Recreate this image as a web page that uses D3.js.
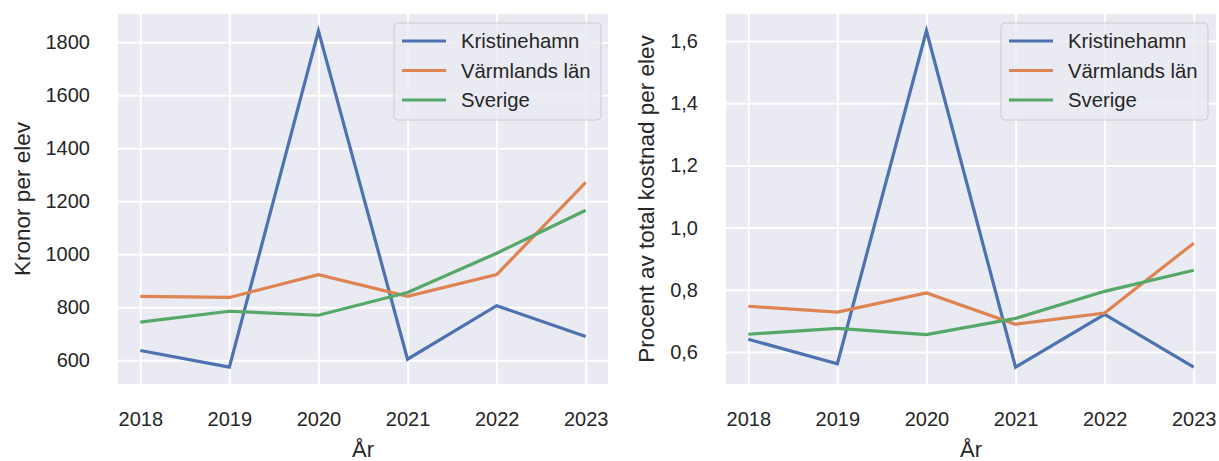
<!DOCTYPE html>
<html>
<head>
<meta charset="utf-8">
<script src="https://cdn.jsdelivr.net/npm/d3@7"></script>
<style>
  body { margin: 0; background: #ffffff; }
  svg { display: block; }
  text { font-family: "Liberation Sans", Arial, sans-serif; fill: #262626; }
</style>
</head>
<body>
<svg id="chart" width="1219" height="461"></svg>
<script>
const years = [2018, 2019, 2020, 2021, 2022, 2023];
const seriesNames = ["Kristinehamn", "Värmlands län", "Sverige"];
const seriesColors = ["#4C72B0", "#DD8452", "#55A868"];

// Left panel: Kronor per elev
const kronorKristinehamn = [637, 574, 1843, 604, 806, 690];
const kronorVarmland = [841, 837, 923, 841, 923, 1271];
const kronorSverige = [744, 785, 770, 856, 1004, 1166];
const kronorTicks = [600, 800, 1000, 1200, 1400, 1600, 1800];

// Right panel: Procent av total kostnad per elev
const procentKristinehamn = [0.641, 0.562, 1.633, 0.551, 0.721, 0.551];
const procentVarmland = [0.747, 0.728, 0.790, 0.689, 0.725, 0.950];
const procentSverige = [0.657, 0.676, 0.656, 0.708, 0.795, 0.863];
const procentTicks = [0.6, 0.8, 1.0, 1.2, 1.4, 1.6];

const xLabel = "År";

const svg = d3.select("#chart");

function panel(opts) {
  const { left, right, top, bottom, series, ticks, tickFmt, yLabel, yLabelX, legendX } = opts;
  const g = svg.append("g");
  const w = right - left, h = bottom - top;

  const allVals = series.flat();
  const [mn, mx] = d3.extent(allVals);
  const pad = (mx - mn) * 0.05;
  const y = d3.scaleLinear().domain([mn - pad, mx + pad]).range([bottom, top]);
  const xPad = (years[years.length - 1] - years[0]) * 0.05;
  const x = d3.scaleLinear().domain([years[0] - xPad, years[years.length - 1] + xPad]).range([left, right]);

  g.append("rect").attr("x", left).attr("y", top).attr("width", w).attr("height", h).attr("fill", "#EAEAF2");

  // grid
  const yAxis = d3.axisLeft(y).tickValues(ticks).tickSize(-w).tickPadding(28).tickFormat(tickFmt);
  const ya = g.append("g").attr("transform", `translate(${left},0)`).call(yAxis);
  ya.select(".domain").remove();
  ya.selectAll("line").attr("stroke", "#ffffff").attr("stroke-width", 2);
  ya.selectAll("text").attr("x", -28).attr("font-size", 20).attr("fill", "#262626").attr("font-family", "Liberation Sans, Arial, sans-serif");

  const xAxis = d3.axisBottom(x).tickValues(years).tickSize(-h).tickPadding(28).tickFormat(d3.format("d"));
  const xa = g.append("g").attr("transform", `translate(0,${bottom})`).call(xAxis);
  xa.select(".domain").remove();
  xa.selectAll("line").attr("stroke", "#ffffff").attr("stroke-width", 2);
  xa.selectAll("text").attr("font-size", 20).attr("fill", "#262626").attr("font-family", "Liberation Sans, Arial, sans-serif");

  // lines
  const line = d3.line().x((d, i) => x(years[i])).y(d => y(d));
  series.forEach((s, i) => {
    g.append("path").datum(s).attr("d", line).attr("fill", "none")
      .attr("stroke", seriesColors[i]).attr("stroke-width", 3.2).attr("stroke-linejoin", "miter");
  });

  // axis labels
  g.append("text").attr("x", (left + right) / 2).attr("y", 457).attr("text-anchor", "middle")
    .attr("font-size", 22).text(xLabel);
  g.append("text").attr("transform", `translate(${yLabelX},${(top + bottom) / 2}) rotate(-90)`)
    .attr("text-anchor", "middle").attr("font-size", 22.5).text(yLabel);

  // legend
  const lg = g.append("g").attr("transform", `translate(${legendX},23)`);
  lg.append("rect").attr("x", 0).attr("y", 0).attr("width", 207).attr("height", 97).attr("rx", 4)
    .attr("fill", "#EAEAF2").attr("fill-opacity", 0.8).attr("stroke", "#cccccc").attr("stroke-width", 1);
  seriesNames.forEach((n, i) => {
    const cy = 18 + i * 29.5;
    lg.append("line").attr("x1", 8).attr("x2", 52).attr("y1", cy).attr("y2", cy)
      .attr("stroke", seriesColors[i]).attr("stroke-width", 3.2);
    lg.append("text").attr("x", 67).attr("y", cy).attr("dy", "0.35em").attr("font-size", 20.3).text(n);
  });
}

const commaFmt = d => d3.format(".1f")(d).replace(".", ",");

panel({
  left: 118, right: 608, top: 14, bottom: 384,
  series: [kronorKristinehamn, kronorVarmland, kronorSverige],
  ticks: kronorTicks, tickFmt: d3.format("d"),
  yLabel: "Kronor per elev", yLabelX: 30, legendX: 394
});

panel({
  left: 726, right: 1216, top: 14, bottom: 384,
  series: [procentKristinehamn, procentVarmland, procentSverige],
  ticks: procentTicks, tickFmt: commaFmt,
  yLabel: "Procent av total kostnad per elev", yLabelX: 654, legendX: 1001
});
</script>
</body>
</html>
